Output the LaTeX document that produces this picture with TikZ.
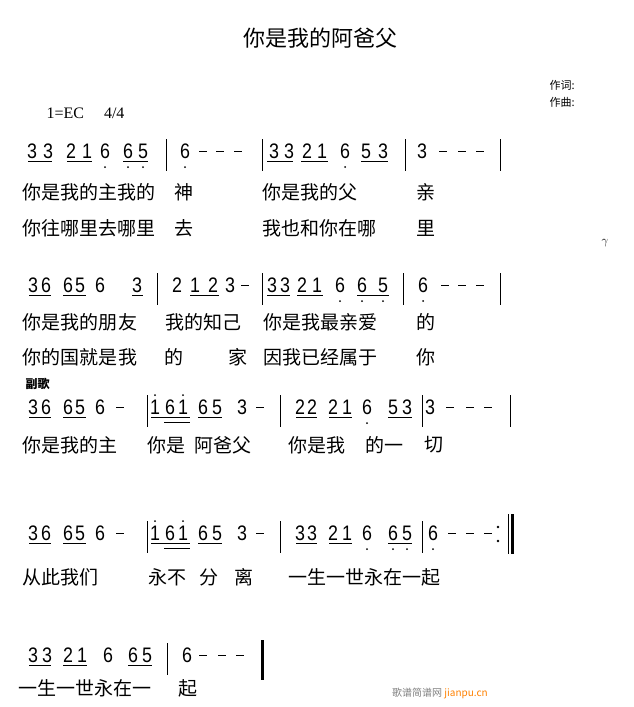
\documentclass[tikz,border=0pt]{standalone}
\usepackage{fontspec}
\setmainfont{Liberation Serif}
\newfontfamily\cjk{Noto Sans CJK SC}
\newfontfamily\numfont[FakeStretch=0.85]{Liberation Sans}
\tikzset{
  note/.style={inner sep=0pt,font=\numfont\fontsize{21}{21}\selectfont},
  lyric/.style={inner sep=0pt,anchor=west,font=\cjk\fontsize{19}{19}\selectfont},
  bar/.style={line width=0.8pt},
}
% notes, underlines, dots, dashes, bar lines (row y given first)
\newcommand\notes[2]{\foreach \x/\d in {#2} \node[note] at (\x,#1) {\d};}
\newcommand\ul[3]{\draw[line width=0.9pt] (#2,{#1+10}) -- (#3,{#1+10});}
\newcommand\uul[3]{\draw[line width=0.9pt] (#2,{#1+15}) -- (#3,{#1+15});}
\newcommand\dotb[2]{\fill (#2,{#1+16}) circle (1pt);}
\newcommand\dott[2]{\fill (#2,{#1-12}) circle (1pt);}
\newcommand\dash[2]{\foreach \x in {#2} \draw[line width=1pt] (\x-4,#1) -- (\x+4,#1);}
\newcommand\barl[2]{\foreach \x in {#2} \draw[bar] (\x,{#1-12}) -- (\x,{#1+20});}
\newcommand\lyr[2]{\foreach \x/\t in {#2} \node[lyric] at (\x,#1) {\t};}
\begin{document}
\begin{tikzpicture}[x=1pt,y=-1pt]
\useasboundingbox (0,0) rectangle (633,707);
\node[font=\cjk\fontsize{22}{22}\selectfont] (title) at (320,38) {你是我的阿爸父};
\node[font=\cjk\fontsize{11}{11}\selectfont,anchor=west] (lyricist) at (546,85) {作词:};
\node[font=\cjk\fontsize{11}{11}\selectfont,anchor=west] (composer) at (546,102) {作曲:};
\node[font=\fontsize{16}{16}\selectfont,anchor=west] (key) at (43,113) {1=EC\quad\ 4/4};

% row 1
\notes{151}{32/3,48/3,71/2,87/1,105/6,128/6,143/5,185/6,274/3,289/3,307/2,322/1,345/6,366/5,383/3,422/3}
\ul{151}{28}{52} \ul{151}{67}{92} \ul{151}{123}{148}
\ul{151}{267}{293} \ul{151}{301}{328} \ul{151}{361}{388}
\foreach \x in {105,128,143,185,345} {\dotb{151}{\x}}
\dash{151}{203,220,238,443,462,480}
\barl{151}{166,262,405,500}
\lyr{192}{22/你是我的主我的,174/神,262/你是我的父,416/亲}
\lyr{228}{22/你往哪里去哪里,174/去,262/我也和你在哪,416/里}
\node[font=\fontsize{13}{13}\selectfont] (breath) at (605,243) {$\gamma$};

% row 2
\notes{285}{33/3,46/6,68/6,80/5,100/6,137/3,177/2,195/1,213/2,230/3,272/3,285/3,302/2,317/1,340/6,362/6,383/5,423/6}
\ul{285}{29}{51} \ul{285}{63}{86} \ul{285}{132}{143} \ul{285}{190}{219}
\ul{285}{267}{290} \ul{285}{297}{323} \ul{285}{357}{389}
\foreach \x in {340,362,383,423} {\dotb{285}{\x}}
\dash{285}{245,445,462,480}
\barl{285}{157,262,403,500}
\lyr{322}{22/你是我的朋,118/友,165/我的知己,263/你是我最亲爱,416/的}
\lyr{357}{22/你的国就是,118/我,164/的,228/家,263/因我已经属于,416/你}
\node[font=\cjk\bfseries\fontsize{12}{12}\selectfont,anchor=west] (chorus) at (22,384) {副歌};

% rows 3 and 4 share the first two bars
\foreach \r in {407,533} {
  \notes{\r}{33/3,46/6,68/6,80/5,100/6,155/1,170/6,183/1,203/6,217/5,242/3}
  \ul{\r}{29}{51} \ul{\r}{63}{86} \ul{\r}{151}{190} \uul{\r}{164}{190} \ul{\r}{198}{222}
  \dott{\r}{155} \dott{\r}{183}
  \dash{\r}{120,260}
}
\notes{407}{300/2,312/2,333/2,347/1,367/6,393/5,407/3,430/3}
\ul{407}{296}{317} \ul{407}{329}{352} \ul{407}{388}{412}
\dotb{407}{367}
\dash{407}{450,470,488}
\barl{407}{147,280,422,510}
\lyr{445}{22/你是我的主,147/你是,194/阿爸父,288/你是我,365/的一,424/切}

\notes{533}{300/3,312/3,333/2,347/1,367/6,393/6,407/5,433/6}
\ul{533}{296}{317} \ul{533}{329}{352} \ul{533}{388}{412}
\foreach \x in {367,393,407,433} {\dotb{533}{\x}}
\dash{533}{452,470,488}
\barl{533}{147,280,422}
\draw[bar] (508,514) -- (508,554);
\draw[line width=3pt] (512,514) -- (512,554);
\fill (498,527) circle (1.3pt) (498,541) circle (1.3pt);
\lyr{577}{22/从此我们,148/永不,199/分,234/离,288/一生一世永在一起}

% row 5
\notes{655}{33/3,47/3,68/2,82/1,108/6,133/6,147/5,187/6}
\ul{655}{29}{51} \ul{655}{63}{87} \ul{655}{128}{152}
\dash{655}{203,222,240}
\barl{655}{167}
\draw[line width=3pt] (262,640) -- (262,680);
\lyr{688}{18/一生一世永在一,178/起}

\node[anchor=west,inner sep=0pt] (mark) at (392,693)
  {\cjk\fontsize{10}{10}\selectfont\color{gray}歌谱简谱网 \textcolor{orange}{jianpu.cn}};
\end{tikzpicture}
\end{document}
